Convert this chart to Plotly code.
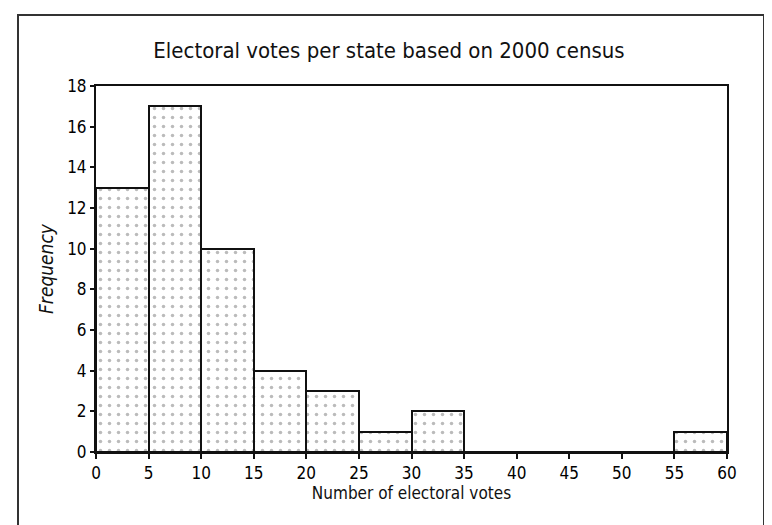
import plotly.graph_objects as go

bin_starts = [0, 5, 10, 15, 20, 25, 30, 35, 40, 45, 50, 55]
bin_width = 5
frequency = [13, 17, 10, 4, 3, 1, 2, 0, 0, 0, 0, 1]
x_ticks = [0, 5, 10, 15, 20, 25, 30, 35, 40, 45, 50, 55, 60]
y_ticks = [0, 2, 4, 6, 8, 10, 12, 14, 16, 18]

centers = [s + bin_width / 2 for s in bin_starts]

font_family = "DejaVu Sans Condensed, DejaVu Sans, sans-serif"

fig = go.Figure(go.Bar(
    x=centers, y=frequency, width=bin_width,
    marker=dict(
        color="white",
        line=dict(color="#111", width=2),
        pattern=dict(shape=".", fgcolor="#777", bgcolor="white", size=9, solidity=0.12),
    ),
    hoverinfo="x+y",
))

# page body has an 8px margin; figure occupies 8..772 x 8..525 of the window
OFF = 8
W, H = 772 - OFF, 525 - OFF
L, R, T, B = 96 - OFF, 45, 86 - OFF, 73
pw, ph = W - L - R, H - T - B

def px_x(x):
    return (x - OFF - L) / pw

def px_y(y):
    return (H + OFF - B - y) / ph

fig.add_shape(type="path", xref="paper", yref="paper",
              path=f"M {px_x(18)} {px_y(530)} L {px_x(18)} {px_y(15)} L {px_x(764)} {px_y(15)} L {px_x(764)} {px_y(530)}",
              line=dict(color="#333", width=2))

fig.update_layout(
    width=W, height=H,
    margin=dict(l=L, r=R, t=T, b=B),
    paper_bgcolor="white", plot_bgcolor="white",
    font=dict(family=font_family, color="#111", size=15),
    title=dict(text="Electoral votes per state based on 2000 census",
               x=(389 - OFF) / W, xanchor="center", y=1 - (50 - OFF) / H, yanchor="middle",
               font=dict(size=22, family=font_family, color="#111")),
    showlegend=False,
    bargap=0,
)
fig.update_xaxes(range=[0, 60], tickvals=x_ticks, ticks="outside", ticklen=5, tickwidth=1.5,
                 tickcolor="#111", showline=True, linecolor="#111", linewidth=2, mirror=True,
                 showgrid=False, zeroline=False,
                 title=dict(text="Number of electoral votes", font=dict(size=17), standoff=5),
                 tickfont=dict(size=17, color="#000"))
fig.update_yaxes(range=[0, 18], tickvals=y_ticks, ticks="outside", ticklen=4, tickwidth=1.5,
                 tickcolor="#111", showline=True, linecolor="#111", linewidth=2, mirror=True,
                 showgrid=False, zeroline=False,
                 title=dict(text="<i>Frequency</i>", font=dict(size=19), standoff=8),
                 tickfont=dict(size=17, color="#000"))

fig.write_html("out.html")
